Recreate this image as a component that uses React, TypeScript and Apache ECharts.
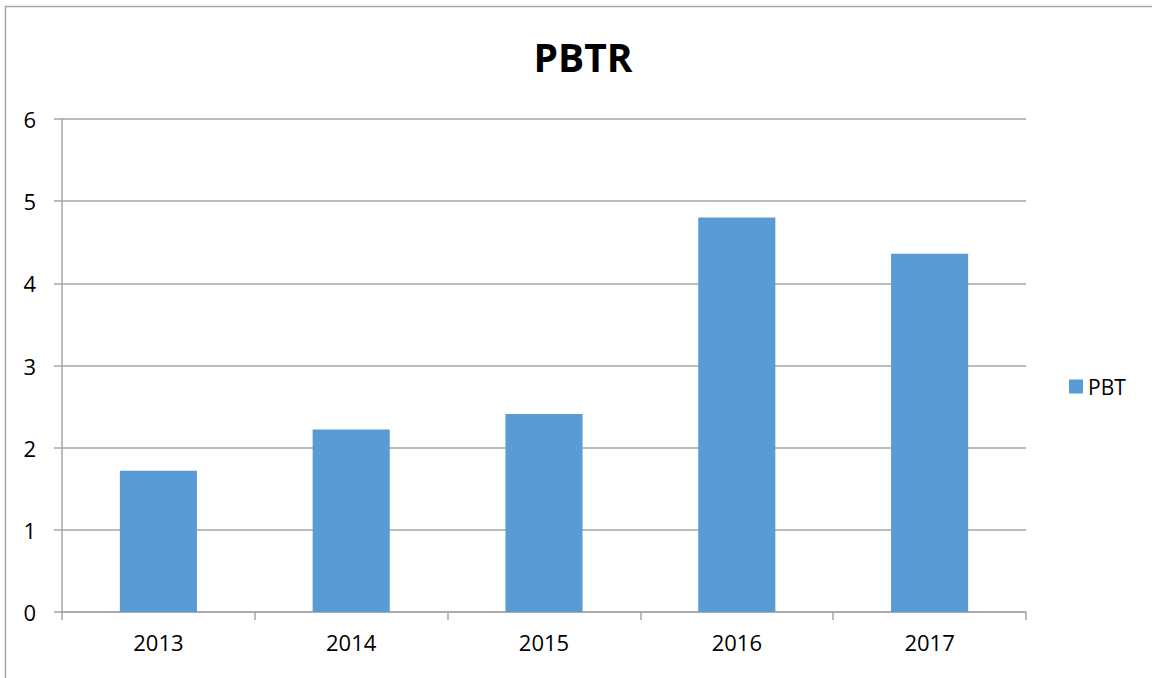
import React, { useEffect, useRef } from "react";
import * as echarts from "echarts";

const categories = ["2013", "2014", "2015", "2016", "2017"];
const pbtValues = [1.72, 2.22, 2.41, 4.8, 4.36];
const seriesName = "PBT";
const titleText = "PBTR";

export default function App() {
  const ref = useRef<HTMLDivElement>(null);
  useEffect(() => {
    if (!ref.current) return;
    const chart = echarts.init(ref.current, null, { renderer: "svg" });
    const font = "'Open Sans', 'Noto Sans', sans-serif";
    const gray = "#a6a6a6";
    chart.setOption({
      animation: false,
      backgroundColor: "#ffffff",
      textStyle: { fontFamily: font },
      title: {
        text: titleText,
        left: 583,
        textAlign: "center",
        top: 37,
        padding: 0,
        textStyle: { fontFamily: font, fontSize: 39, fontWeight: "bold", color: "#000" },
      },
      legend: {
        data: [seriesName],
        left: 1069,
        top: 376,
        padding: 0,
        orient: "vertical",
        itemWidth: 14,
        itemHeight: 14,
        itemGap: 8,
        icon: "rect",
        textStyle: { fontFamily: font, fontSize: 21, color: "#000" },
      },
      graphic: [
        {
          type: "rect",
          shape: { x: 5.5, y: 6.5, width: 1300, height: 800 },
          style: { fill: "none", stroke: gray, lineWidth: 1.5 },
          silent: true,
        },
      ],
      grid: { left: 62, right: 126, top: 119, bottom: 66, containLabel: false },
      xAxis: {
        type: "category",
        data: categories,
        boundaryGap: true,
        axisLine: { show: true, lineStyle: { color: gray, width: 1.5 } },
        axisTick: { show: true, length: 8, lineStyle: { color: gray, width: 1.5 } },
        axisLabel: { color: "#000", fontSize: 22, fontFamily: font, margin: 19 },
        splitLine: { show: false },
      },
      yAxis: {
        type: "value",
        min: 0,
        max: 6,
        interval: 1,
        axisLine: { show: true, lineStyle: { color: gray, width: 1.5 } },
        axisTick: { show: true, length: 8, lineStyle: { color: gray, width: 1.5 } },
        axisLabel: { color: "#000", fontSize: 22, fontFamily: font, margin: 26 },
        splitLine: { show: true, lineStyle: { color: gray, width: 1.5 } },
      },
      series: [
        {
          name: seriesName,
          type: "bar",
          data: pbtValues,
          barWidth: "40%",
          itemStyle: { color: "#5b9bd5" },
        },
      ],
    });
    return () => chart.dispose();
  }, []);
  return (
    <div
      ref={ref}
      style={{ position: "fixed", left: 0, top: 0, width: 1152, height: 678 }}
    />
  );
}
